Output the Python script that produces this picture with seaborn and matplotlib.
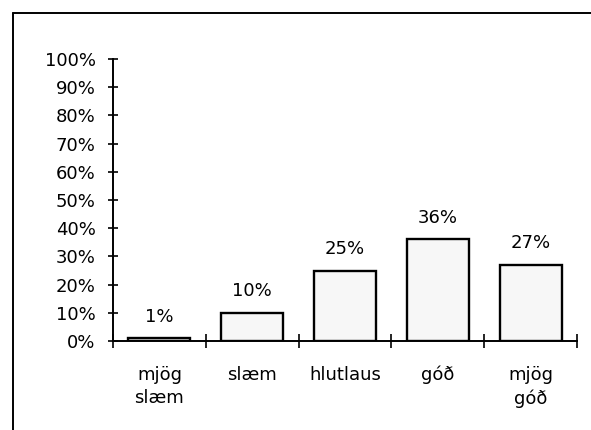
import matplotlib
matplotlib.use("Agg")
import matplotlib.pyplot as plt
import seaborn as sns
import pandas as pd
from matplotlib.lines import Line2D

categories = ["mjög\nslæm", "slæm", "hlutlaus", "góð", "mjög\ngóð"]
values = [1, 10, 25, 36, 27]
value_labels = ["1%", "10%", "25%", "36%", "27%"]
y_ticks = [0, 10, 20, 30, 40, 50, 60, 70, 80, 90, 100]
y_tick_labels = [f"{t}%" for t in y_ticks]

sns.set_theme(style="white")
plt.rcParams["font.family"] = ["DejaVu Sans"]
plt.rcParams["text.color"] = "black"
plt.rcParams["xtick.color"] = "black"
plt.rcParams["ytick.color"] = "black"
plt.rcParams["xtick.labelcolor"] = "black"
plt.rcParams["ytick.labelcolor"] = "black"

FS = 13

fig = plt.figure(figsize=(5.91, 4.30), dpi=100)
ax = fig.add_axes([113/591, 1 - 341/430, (577 - 113)/591, (341 - 59)/430])

df = pd.DataFrame({"cat": categories, "val": values})
sns.barplot(data=df, x="cat", y="val", ax=ax, color="#f7f7f7",
            edgecolor="black", linewidth=1.7, width=0.67, saturation=1)

ax.set_xlim(-0.5, len(categories) - 0.5)
ax.set_ylim(0, 100)
ax.set_xlabel("")
ax.set_ylabel("")

for spine in ["top", "right"]:
    ax.spines[spine].set_visible(False)
for spine in ["left", "bottom"]:
    ax.spines[spine].set_color("black")
    ax.spines[spine].set_linewidth(1.4)

ax.set_yticks(y_ticks)
ax.set_yticklabels(y_tick_labels, fontsize=FS, color="black")
ax.tick_params(axis="y", direction="inout", length=7, width=1.2, color="black",
               pad=9, left=True)

ax.set_xticks(range(len(categories)))
ax.set_xticklabels(categories, fontsize=FS, linespacing=1.35, va="top", color="black")
ax.tick_params(axis="x", which="major", length=0, pad=18)
ax.set_xticks([i - 0.5 for i in range(len(categories) + 1)], minor=True)
ax.tick_params(axis="x", which="minor", direction="inout", length=10, width=1.2,
               color="black", bottom=True)

for i, (v, lab) in enumerate(zip(values, value_labels)):
    ax.annotate(lab, (i, v), xytext=(0, 9), textcoords="offset points",
                ha="center", va="bottom", fontsize=FS, color="black")

fig.add_artist(Line2D([13/591, 13/591], [0, 1 - 13/430], color="black", lw=1.4,
                      transform=fig.transFigure))
fig.add_artist(Line2D([13/591, 1], [1 - 13/430, 1 - 13/430], color="black", lw=1.4,
                      transform=fig.transFigure))

fig.savefig("out.png", dpi=100, facecolor="white")
